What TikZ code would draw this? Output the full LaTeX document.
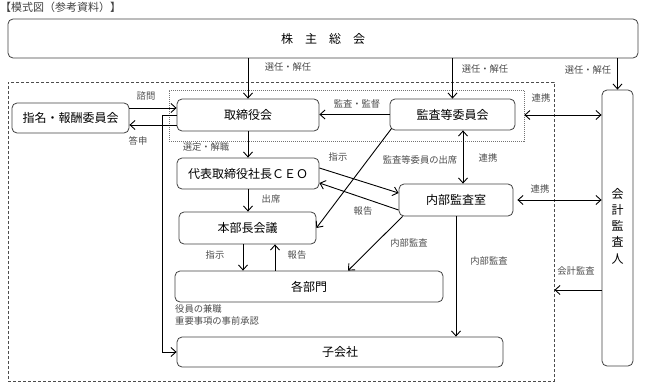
\documentclass[tikz,border=0pt]{standalone}
\usepackage{fontspec}
\newfontfamily\cjk{Noto Sans CJK JP}
\usetikzlibrary{arrows.meta}
\begin{document}
\begin{tikzpicture}[x=1pt,y=-1pt,
  box/.style={draw=black!75, line width=0.8pt, rounded corners=5pt, inner sep=0pt,
    font=\cjk\fontsize{12}{14}\selectfont, text=black},
  lbl/.style={font=\cjk\fontsize{9.3}{11}\selectfont, text=black!70, inner sep=0pt},
  arr/.style={-{Straight Barb[length=5pt,width=9pt]}, line width=0.9pt, black},
  darr/.style={{Straight Barb[length=5pt,width=9pt]}-{Straight Barb[length=5pt,width=9pt]}, line width=0.9pt, black},
  plain/.style={line width=0.9pt, black},
  dashbox/.style={draw=black!70, line width=0.8pt, dash pattern=on 3pt off 2pt, inner sep=0pt},
  dotbox/.style={draw=black!55, line width=0.6pt, dash pattern=on 1pt off 1pt, inner sep=0pt}
]
\useasboundingbox (0,0) rectangle (648,388);

% title
\node[anchor=west, inner sep=0pt, font=\cjk\fontsize{11}{13}\selectfont, text=black!75] (title) at (0,7) {【模式図（参考資料）】};

% frames
\node[dashbox, minimum width=546pt, minimum height=299pt] (outer) at (281,231.5) {};
\node[dotbox, minimum width=355pt, minimum height=51pt] (dot) at (346.5,115.5) {};

% boxes
\node[box, minimum width=630pt, minimum height=39pt] (kabu) at (323,38.5) {株　主　総　会};
\node[box, minimum width=142pt, minimum height=32pt] (tori) at (248,115) {取締役会};
\node[box, minimum width=125pt, minimum height=31pt] (kansa) at (452.5,114.5) {監査等委員会};
\node[box, minimum width=117pt, minimum height=30pt] (shimei) at (70.5,118) {指名・報酬委員会};
\node[box, minimum width=142pt, minimum height=31pt] (ceo) at (248,173.5) {代表取締役社長ＣＥＯ};
\node[box, minimum width=137pt, minimum height=32pt] (honbu) at (247.5,228) {本部長会議};
\node[box, minimum width=114pt, minimum height=32pt] (naibu) at (456,200) {内部監査室};
\node[box, minimum width=268pt, minimum height=31pt] (kakubu) at (309,286.5) {各部門};
\node[box, minimum width=326pt, minimum height=30pt] (kogai) at (340,352) {子会社};
\node[box, minimum width=31pt, minimum height=276pt] (kaikei) at (617.5,228) {};
\node[inner sep=0pt, align=center, font=\cjk\fontsize{12}{16.2}\selectfont] (kaikeitxt) at (617.5,226) {会\\計\\監\\査\\人};

% arrows from shareholders
\draw[arr] (kabu.south -| tori.north) -- (tori.north);
\draw[arr] (kabu.south -| kansa.north) -- (kansa.north);
\draw[arr] (kabu.south -| kaikei.north) -- (kaikei.north);
\node[lbl] (l1) at (288,67) {選任・解任};
\node[lbl] (l2) at (485,69) {選任・解任};
\node[lbl] (l3) at (588,70) {選任・解任};

% audit committee -> board
\draw[arr] (kansa.west) -- (tori.east |- kansa.west);
\node[lbl] (l4) at (357,104) {監査・監督};

% nomination committee
\draw[arr] (shimei.east |- 0,108) -- (tori.west |- 0,108);
\draw[arr] (tori.west |- 0,125) -- (shimei.east |- 0,125);
\node[lbl] (l5) at (146,96) {諮問};
\node[lbl] (l6) at (138,141) {答申};

% board -> subsidiaries
\draw[arr] (tori.west) -- (162,115) |- (kogai.west);
\node[lbl, anchor=north west, align=left, font=\cjk\fontsize{9.3}{12}\selectfont] (l7) at (175,304) {役員の兼職\\重要事項の事前承認};

% board -> CEO
\draw[arr] (tori.south) -- (ceo.north);
\node[lbl] (l8) at (206,147) {選定・解職};

% CEO -> division heads meeting
\draw[arr] (ceo.south) -- (honbu.north -| ceo.south);
\node[lbl] (l9) at (271,199) {出席};

% CEO <-> internal audit
\draw[arr] (ceo.east |- 0,168) -- (naibu.west |- 0,193);
\draw[arr] (naibu.west |- 0,210) -- (ceo.east |- 0,183);
\node[lbl] (l10) at (338,157) {指示};
\node[lbl] (l11) at (363,211) {報告};

% audit committee -> division heads meeting
\draw[arr] ([shift={(2,-2)}]kansa.south west) -- (honbu.east);
\node[lbl] (l12) at (420,160) {監査等委員の出席};

% audit committee <-> internal audit
\draw[darr] (kansa.south -| 463,0) -- (naibu.north -| 463,0);
\node[lbl] (l13) at (488,158) {連携};

% links to accounting auditor
\draw[darr] (dot.east |- 0,115) -- (kaikei.west |- 0,115);
\node[lbl] (l14) at (541,98) {連携};
\draw[darr] ([xshift=4pt]naibu.east) -- (kaikei.west |- naibu.east);
\node[lbl] (l15) at (540,189) {連携};

% internal audit -> departments / subsidiaries
\draw[arr] ([xshift=4pt]naibu.south west) -- (kakubu.north -| 348,0);
\node[lbl] (l16) at (409,243) {内部監査};
\draw[arr] (naibu.south) -- (kogai.north -| naibu.south);
\node[lbl] (l17) at (489,261) {内部監査};

% accounting audit
\draw[arr] (kaikei.west |- 0,290) -- (outer.east |- 0,290);
\node[lbl] (l18) at (576,271) {会計監査};

% meeting <-> departments
\draw[arr] (honbu.south -| 243,0) -- (kakubu.north -| 243,0);
\draw[arr] (kakubu.north -| 275,0) -- (honbu.south -| 275,0);
\node[lbl] (l19) at (215,255) {指示};
\node[lbl] (l20) at (297,255) {報告};
\end{tikzpicture}
\end{document}
